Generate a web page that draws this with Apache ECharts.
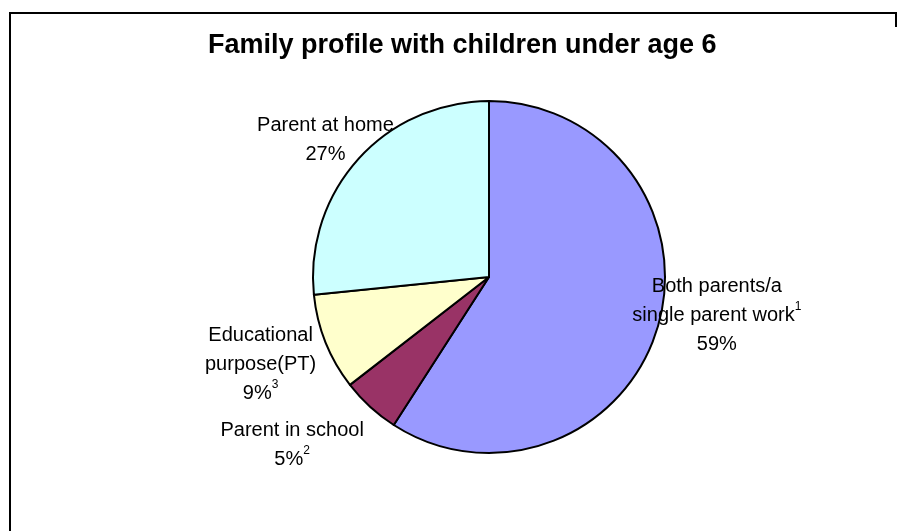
<!DOCTYPE html>
<html>
<head>
<meta charset="utf-8">
<script src="https://cdn.jsdelivr.net/npm/echarts@6/dist/echarts.min.js"></script>
<style>
html,body{margin:0;padding:0;background:#fff;}
#chart{width:901px;height:531px;}
</style>
</head>
<body>
<div id="chart"></div>
<script>
// ---- data ----
const titleText = 'Family profile with children under age 6';
const names = ['Both parents/a\nsingle parent work', 'Parent in school', 'Educational\npurpose(PT)', 'Parent at home'];
const values = [59.1, 5.4, 8.9, 26.6];
const nameNotes = ['1', '', '', ''];
const pctNotes = ['', '2', '3', ''];

// ---- styles / layout ----
const colors = ['#9999FF', '#993366', '#FFFFCC', '#CCFFFF'];
const labelNudge = [[59, -11], [-78, 38], [-65, 22], [-33, -19]];
const CX = 489, CY = 277, R = 176;
const FONT = '"Liberation Sans", Arial, sans-serif';

const total = values.reduce((a, b) => a + b, 0);
function midAngle(i) {
  let s = 0;
  for (let k = 0; k < i; k++) s += values[k];
  return (s + values[i] / 2) / total * 2 * Math.PI;
}

const chart = echarts.init(document.getElementById('chart'), null, {renderer: 'canvas'});
chart.setOption({
  animation: false,
  backgroundColor: '#fff',
  title: {
    text: titleText,
    left: 208,
    top: 32,
    padding: 0,
    textStyle: {fontSize: 27, fontWeight: 'bold', color: '#000', fontFamily: FONT}
  },
  graphic: [
    {type: 'polyline', silent: true, shape: {points: [[10, 535], [10, 13], [896, 13], [896, 27]]},
     style: {stroke: '#000', lineWidth: 2, fill: null}}
  ],
  series: [{
    type: 'pie',
    center: [CX, CY],
    radius: R,
    startAngle: 90,
    clockwise: true,
    avoidLabelOverlap: false,
    emphasis: {disabled: true},
    itemStyle: {borderColor: '#000', borderWidth: 2},
    labelLine: {show: false},
    label: {
      show: true,
      position: 'outside',
      color: '#000',
      fontFamily: FONT,
      fontSize: 20,
      lineHeight: 29,
      formatter: function (p) {
        const i = p.dataIndex;
        const lines = names[i].split('\n').map(s => '{t|' + s + '}');
        if (nameNotes[i]) lines[lines.length - 1] += '{sup|' + nameNotes[i] + '}';
        let pct = '{t|' + Math.round(values[i] * 100 / total + 1e-9) + '%}';
        if (pctNotes[i]) pct += '{sup|' + pctNotes[i] + '}';
        lines.push(pct);
        return lines.join('\n');
      },
      rich: {
        t: {fontSize: 20, lineHeight: 29, align: 'center', color: '#000', fontFamily: FONT},
        sup: {fontSize: 12, lineHeight: 18, verticalAlign: 'top', align: 'center', color: '#000', fontFamily: FONT}
      }
    },
    labelLayout: function (p) {
      const a = midAngle(p.dataIndex);
      const n = labelNudge[p.dataIndex];
      return {
        x: CX + R * Math.sin(a) + n[0],
        y: CY - R * Math.cos(a) + n[1],
        align: 'center',
        verticalAlign: 'middle'
      };
    },
    data: names.map((n, i) => ({name: n, value: values[i], itemStyle: {color: colors[i]}}))
  }]
});
</script>
</body>
</html>
